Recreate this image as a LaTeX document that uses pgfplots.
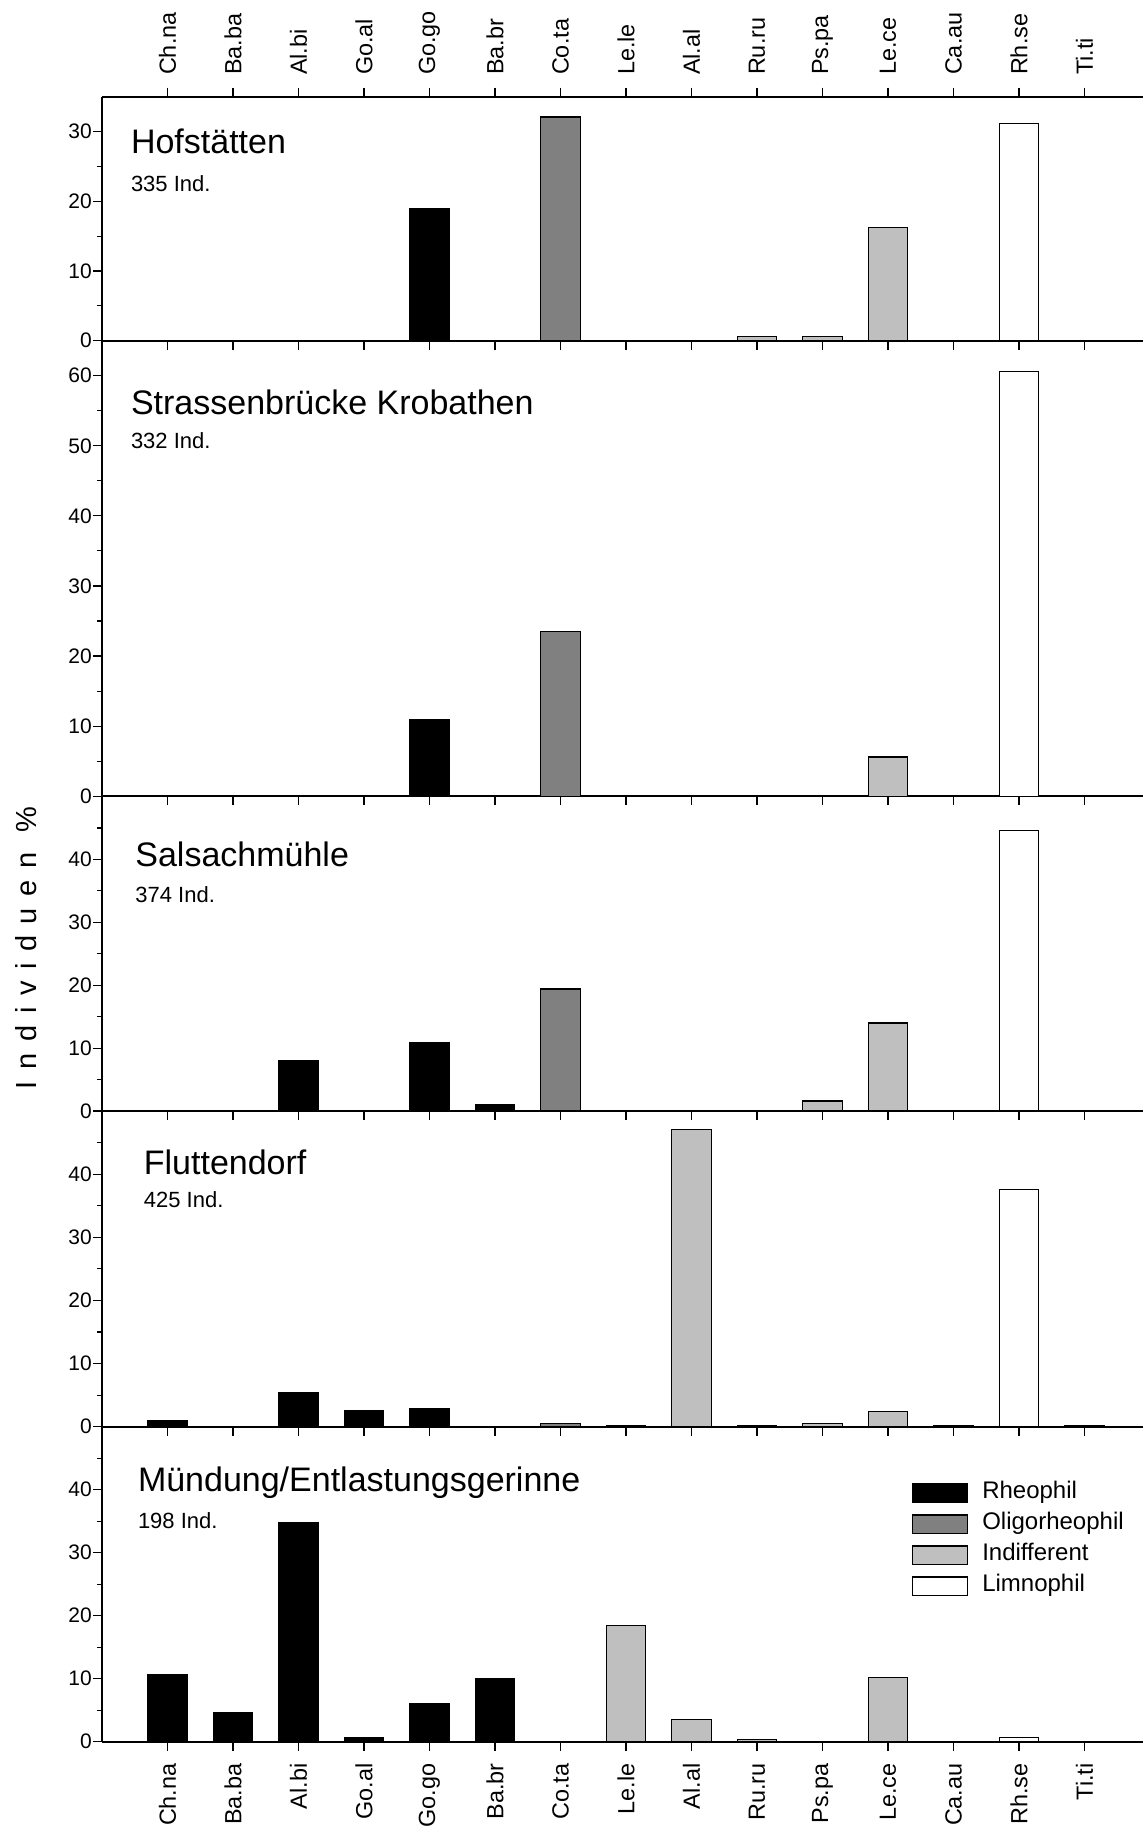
\documentclass[border=0pt]{standalone}
\usepackage{fontspec}
\setmainfont{Liberation Sans}
\usepackage{pgfplots}
\pgfplotsset{compat=1.18}

\definecolor{cRheo}{gray}{0}
\definecolor{cOligo}{gray}{0.5}
\definecolor{cIndiff}{gray}{0.75}
\definecolor{cLimno}{gray}{1}

\pgfplotsset{
  panel/.style={
    scale only axis, width=524pt,
    xmin=-1, xmax=15, ymin=0,
    anchor=north west,
    separate axis lines,
    axis y line*=left, axis x line*=bottom,
    xtick={0,...,14}, xticklabels={},
    tick align=outside,
    major tick length=4.5pt, minor tick length=2.25pt,
    ybar, bar width=0.6, /pgf/bar shift=0pt,
    axis line style={line width=0.9pt, black},
    every tick/.style={black, line width=0.55pt},
    yticklabel style={font=\fontsize{10.5}{12}\selectfont, inner sep=0.4pt},
    xticklabel style={font=\fontsize{11.7}{14}\selectfont, rotate=90, inner sep=0pt},
    xticklabel shift=6.2pt,
    /pgf/number format/assume math mode=true,
    clip=false,
  },
  bars/.style={draw=black, line width=0.6pt, forget plot},
}
\newcommand{\cats}{Ch.na,Ba.ba,Al.bi,Go.al,Go.go,Ba.br,Co.ta,Le.le,Al.al,Ru.ru,Ps.pa,Le.ce,Ca.au,Rh.se,Ti.ti}

\begin{document}
\begin{tikzpicture}
\useasboundingbox (0pt,0pt) rectangle (571pt,-914.5pt);

% Panel 1: Hofstaetten
\begin{axis}[panel, at={(51pt,-48.35pt)}, height=122pt, ymax=35,
  axis x line*=box, xtick pos=both, xticklabel pos=upper,
  xticklabels/.expanded={\cats},
  xticklabel style={anchor=west},
  ytick={0,10,20,30}, minor ytick={5,15,25}]
\addplot[bars, fill=cRheo] coordinates {(4,18.9)};
\addplot[bars, fill=cOligo] coordinates {(6,32.1)};
\addplot[bars, fill=cIndiff] coordinates {(9,0.6) (10,0.6) (11,16.2)};
\addplot[bars, fill=cLimno] coordinates {(13,31.2)};
\end{axis}

% Panel 2: Strassenbruecke Krobathen
\begin{axis}[panel, at={(51pt,-170.35pt)}, height=227.75pt, ymax=65,
  ytick={0,10,...,60}, minor ytick={5,15,...,55}]
\addplot[bars, fill=cRheo] coordinates {(4,11.0)};
\addplot[bars, fill=cOligo] coordinates {(6,23.5)};
\addplot[bars, fill=cIndiff] coordinates {(11,5.6)};
\addplot[bars, fill=cLimno] coordinates {(13,60.6)};
\end{axis}

% Panel 3: Salsachmuehle
\begin{axis}[panel, at={(51pt,-398.25pt)}, height=157.25pt, ymax=50,
  ytick={0,10,...,40}, minor ytick={5,15,...,45}]
\addplot[bars, fill=cRheo] coordinates {(2,8.0) (4,10.9) (5,1.0)};
\addplot[bars, fill=cOligo] coordinates {(6,19.4)};
\addplot[bars, fill=cIndiff] coordinates {(10,1.6) (11,14.0)};
\addplot[bars, fill=cLimno] coordinates {(13,44.6)};
\end{axis}

% Panel 4: Fluttendorf
\begin{axis}[panel, at={(51pt,-555.5pt)}, height=157.85pt, ymax=50,
  ytick={0,10,...,40}, minor ytick={5,15,...,45}]
\addplot[bars, fill=cRheo] coordinates {(0,0.95) (2,5.4) (3,2.55) (4,2.85)};
\addplot[bars, fill=cOligo] coordinates {(6,0.55)};
\addplot[bars, fill=cIndiff] coordinates {(7,0.25) (8,47.1) (9,0.25) (10,0.5) (11,2.4) (12,0.25)};
\addplot[bars, fill=cLimno] coordinates {(13,37.6) (14,0.25)};
\end{axis}

% Panel 5: Muendung/Entlastungsgerinne
\begin{axis}[panel, at={(51pt,-713.35pt)}, height=157.5pt, ymax=50,
  ytick={0,10,...,40}, minor ytick={5,15,...,45},
  xticklabels/.expanded={\cats},
  xticklabel style={anchor=east},
  legend image code/.code={\draw[#1] (0pt,-4.575pt) rectangle (27.5pt,4.575pt);},
  legend style={draw=none, fill=none, at={(0.7726,0.8213)}, anchor=north west,
    inner sep=0pt, row sep=5.75pt, column sep=0pt,
    font=\fontsize{12}{14}\selectfont,
    nodes={inner sep=0pt, text depth=0.2em, text height=0.72em},
    /tikz/every odd column/.append style={column sep=7pt}},
  legend cell align=left]
\addplot[bars, fill=cRheo] coordinates {(0,10.6) (1,4.55) (2,34.8) (3,0.7) (4,6.1) (5,10.0)};
\addplot[bars, fill=cIndiff] coordinates {(7,18.45) (8,3.5) (9,0.4) (11,10.2)};
\addplot[bars, fill=cLimno] coordinates {(13,0.65)};
\addlegendimage{draw=black, line width=0.6pt, fill=cRheo}
\addlegendentry{Rheophil}
\addlegendimage{draw=black, line width=0.6pt, fill=cOligo}
\addlegendentry{Oligorheophil}
\addlegendimage{draw=black, line width=0.6pt, fill=cIndiff}
\addlegendentry{Indifferent}
\addlegendimage{draw=black, line width=0.6pt, fill=cLimno}
\addlegendentry{Limnophil}
\end{axis}

% Panel titles and texts (coordinates in reference pixels)
\begin{scope}[x=0.5pt, y=-0.5pt]
\node[anchor=base west, inner sep=0pt, font=\fontsize{17}{20}\selectfont] at (130.6,153.3) {Hofstätten};
\node[anchor=base west, inner sep=0pt, font=\fontsize{11}{13}\selectfont] at (130.6,191.7) {335 Ind.};
\node[anchor=base west, inner sep=0pt, font=\fontsize{17}{20}\selectfont] at (130.6,414) {Strassenbrücke Krobathen};
\node[anchor=base west, inner sep=0pt, font=\fontsize{11}{13}\selectfont] at (130.6,448) {332 Ind.};
\node[anchor=base west, inner sep=0pt, font=\fontsize{17}{20}\selectfont] at (135,866) {Salsachmühle};
\node[anchor=base west, inner sep=0pt, font=\fontsize{11}{13}\selectfont] at (135,902.3) {374 Ind.};
\node[anchor=base west, inner sep=0pt, font=\fontsize{17}{20}\selectfont] at (143.5,1174) {Fluttendorf};
\node[anchor=base west, inner sep=0pt, font=\fontsize{11}{13}\selectfont] at (143.5,1207.3) {425 Ind.};
\node[anchor=base west, inner sep=0pt, font=\fontsize{17}{20}\selectfont] at (137.6,1491.7) {Mündung/Entlastungsgerinne};
\node[anchor=base west, inner sep=0pt, font=\fontsize{11}{13}\selectfont] at (137.6,1528.3) {198 Ind.};
\node[rotate=90, inner sep=0pt, font=\fontsize{14.5}{17}\selectfont\addfontfeature{LetterSpace=40}] at (25.7,948) {Individuen \%};
\end{scope}
\end{tikzpicture}
\end{document}
